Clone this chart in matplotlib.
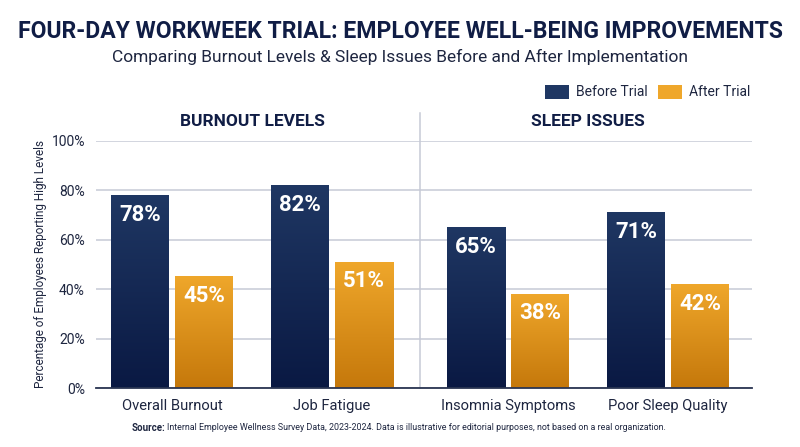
import numpy as np
import matplotlib
matplotlib.use("Agg")
import matplotlib.pyplot as plt
from matplotlib.colors import LinearSegmentedColormap
from matplotlib.patches import Rectangle

categories = ["Overall Burnout", "Job Fatigue", "Insomnia Symptoms", "Poor Sleep Quality"]
before = [78, 82, 65, 71]
after = [45, 51, 38, 42]
series_names = ["Before Trial", "After Trial"]
sections = ["BURNOUT LEVELS", "SLEEP ISSUES"]
yticks = [0, 20, 40, 60, 80, 100]

plt.rcParams['font.family'] = ['Roboto', 'DejaVu Sans']

NAVY_TOP, NAVY_BOT = "#1f3763", "#0a1943"
ORG_TOP, ORG_BOT = "#efa72b", "#c5780b"
DARK = "#101d45"
TXT = "#1e2640"
GRID = "#c6cad6"

W, H = 800, 447
fig = plt.figure(figsize=(W / 100, H / 100), dpi=100)
ax = fig.add_axes([96 / W, 1 - 388 / H, (752 - 96) / W, (388 - 141) / H])

xpos = np.array([0, 1, 2.1, 3.1])
bw = 0.3625
off = 0.2

b1 = ax.bar(xpos - off, before, bw, color="none", zorder=3)
b2 = ax.bar(xpos + off, after, bw, color="none", zorder=3)

grad = np.linspace(0, 1, 256).reshape(-1, 1)
for bars, ctop, cbot in [(b1, NAVY_TOP, NAVY_BOT), (b2, ORG_TOP, ORG_BOT)]:
    cmap = LinearSegmentedColormap.from_list("g", [cbot, ctop])
    for r in bars:
        x0, w, h = r.get_x(), r.get_width(), r.get_height()
        ax.imshow(grad, extent=(x0, x0 + w, 0, h), origin="lower", cmap=cmap,
                  aspect="auto", zorder=3, interpolation="bilinear")
        ax.text(x0 + w / 2, h - 7.8, f"{h:.0f}%", ha="center", va="center",
                color="white", fontsize=16, fontweight="bold", zorder=5)

ax.set_xlim(-0.475, 3.625)
ax.set_ylim(0, 100)
ax.set_yticks(yticks)
ax.set_yticklabels([f"{v}%" for v in yticks], fontsize=10, color=TXT)
ax.set_xticks(xpos)
ax.set_xticklabels(categories, fontsize=10.6, color=TXT)
ax.tick_params(length=0, pad=8)
ax.tick_params(axis="x", pad=8)
ax.yaxis.grid(True, color=GRID, lw=1.1, zorder=0)
ax.set_axisbelow(True)
for s in ["top", "right", "left"]:
    ax.spines[s].set_visible(False)
ax.spines["bottom"].set_color("#2a3552")
ax.spines["bottom"].set_linewidth(1.3)
ax.spines["bottom"].set_zorder(6)

ax.set_ylabel("Percentage of Employees Reporting High Levels", fontsize=8.5,
              color=TXT, labelpad=3)

# divider
mid = (xpos[1] + xpos[2]) / 2
ax.plot([mid, mid], [0, 111.5], color=GRID, lw=1.1, clip_on=False, zorder=1)

# section labels
ax.text((xpos[0] + xpos[1]) / 2, 107.7, sections[0], ha="center", va="center",
        fontsize=12.5, fontweight="bold", color=DARK)
ax.text((xpos[2] + xpos[3]) / 2, 107.7, sections[1], ha="center", va="center",
        fontsize=12.5, fontweight="bold", color=DARK)

renderer = fig.canvas.get_renderer()


def fit(t, target_w):
    for _ in range(3):
        bb = t.get_window_extent(renderer=renderer)
        t.set_fontsize(t.get_fontsize() * target_w / bb.width)
    return t


title = fig.text(0.5, 1 - 32 / H, "FOUR-DAY WORKWEEK TRIAL: EMPLOYEE WELL-BEING IMPROVEMENTS",
                 ha="center", va="center", fontweight="bold", color=DARK, fontsize=16)
fit(title, 765)
sub = fig.text(0.5, 1 - 57 / H, "Comparing Burnout Levels & Sleep Issues Before and After Implementation",
               ha="center", va="center", color=TXT, fontsize=12)
fit(sub, 576)

# legend
for (x0, name, ctop, cbot) in [(545, series_names[0], NAVY_TOP, NAVY_BOT),
                               (658, series_names[1], ORG_TOP, ORG_BOT)]:
    fig.patches.append(Rectangle((x0 / W, 1 - 99 / H), 24 / W, 14 / H,
                                 transform=fig.transFigure, facecolor=ctop,
                                 edgecolor="none"))
    fig.text((x0 + 31) / W, 1 - 92 / H, name, ha="left", va="center",
             fontsize=10, color=TXT)

# source
s1 = fig.text(132 / W, 1 - 428 / H, "Source:", ha="left", va="center",
              fontsize=7, fontweight="bold", color=TXT)
bb = s1.get_window_extent(renderer=renderer)
s2 = fig.text((bb.x1 + 1) / W, 1 - 428 / H,
              "Internal Employee Wellness Survey Data, 2023-2024. Data is illustrative for editorial purposes, not based on a real organization.",
              ha="left", va="center", fontsize=7, color=TXT)
fit(s2, 660 - bb.x1 - 1)

fig.savefig("out.png", dpi=100, facecolor="white")
